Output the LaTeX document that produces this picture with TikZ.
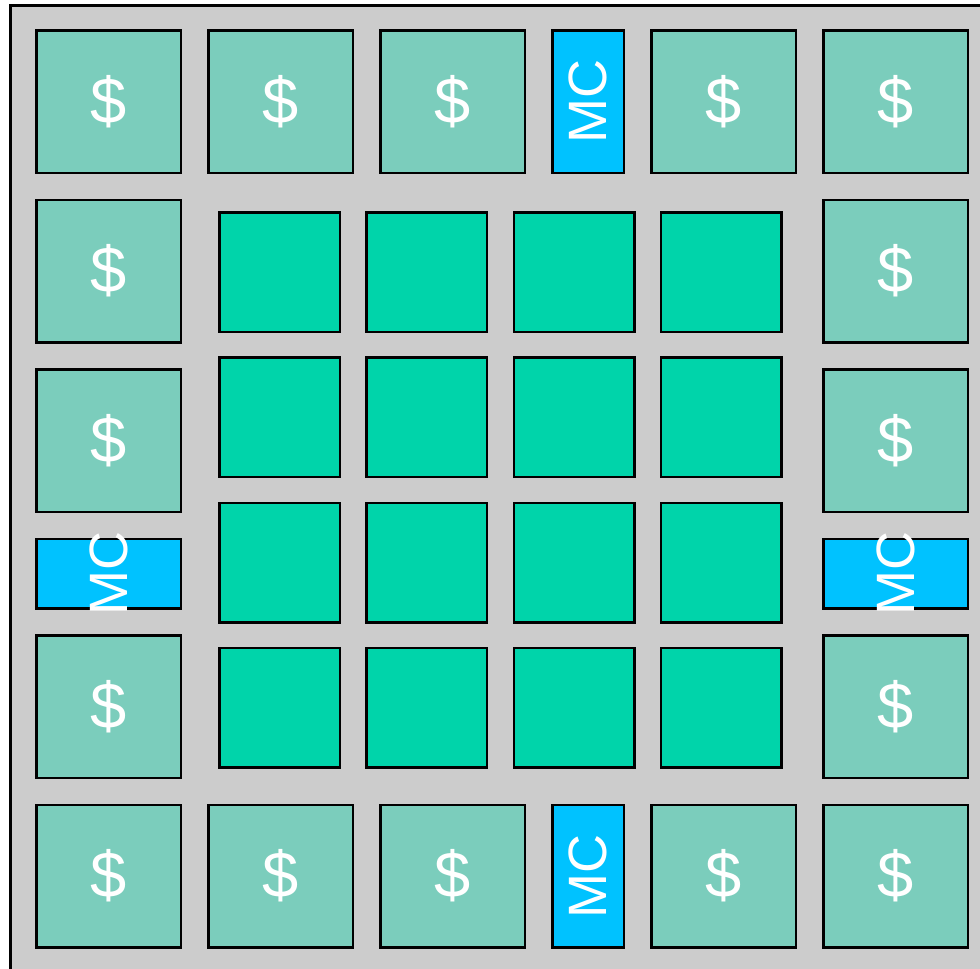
\documentclass[tikz,border=0pt]{standalone}
\usepackage{fontspec}
\setmainfont{Liberation Sans}
\usetikzlibrary{positioning}
\definecolor{boardgray}{RGB}{204,204,204}
\definecolor{cachegreen}{RGB}{123,205,188}
\definecolor{coregreen}{RGB}{0,212,170}
\definecolor{mcblue}{RGB}{0,194,255}

\begin{document}
\begin{tikzpicture}[
    x=1pt, y=-1pt,
    node distance=27pt and 27.5pt,
    cell/.style={rectangle, draw, line width=2.5pt, outer sep=0pt, inner sep=0pt},
    cache/.style={cell, fill=cachegreen, minimum width=144.5pt, minimum height=142.5pt, text=white, font=\fontsize{65}{70}\selectfont},
    core/.style={cell, fill=coregreen, minimum width=120.5pt, minimum height=119.5pt},
    mclabel/.style={text=white, rotate=90, inner sep=0pt, font=\fontsize{54}{60}\selectfont},
    mcv/.style={cell, fill=mcblue, minimum width=71.5pt, minimum height=142.5pt, label={[mclabel]center:MC}},
    mch/.style={cell, fill=mcblue, minimum width=144.5pt, minimum height=69.5pt, label={[mclabel]center:MC}}
]
\useasboundingbox (0,0) rectangle (980,969);
\clip (0,0) rectangle (980,969);
\fill[boardgray] (10.5,5.5) rectangle (995,985);
\draw[line width=3pt] (10.5,985) -- (10.5,5.5) -- (995,5.5);

% top row
\node[cache] (t1) at (108.5,101.5) {\$};
\node[cache, right=of t1] (t2) {\$};
\node[cache, right=of t2] (t3) {\$};
\node[mcv, right=of t3] (tm) {};
\node[cache, right=of tm] (t4) {\$};
\node[cache, right=of t4] (t5) {\$};
% left column
\node[cache, below=of t1] (l1) {\$};
\node[cache, below=of l1] (l2) {\$};
\node[mch, below=of l2] (lm) {};
\node[cache, below=of lm] (l3) {\$};
% right column
\node[cache, below=of t5] (r1) {\$};
\node[cache, below=of r1] (r2) {\$};
\node[mch, below=of r2] (rm) {};
\node[cache, below=of rm] (r3) {\$};
% bottom row
\node[cache, below=of l3] (b1) {\$};
\node[cache, right=of b1] (b2) {\$};
\node[cache, right=of b2] (b3) {\$};
\node[mcv, right=of b3] (bm) {};
\node[cache, right=of bm] (b4) {\$};
\node[cache, right=of b4] (b5) {\$};

% cores
\foreach \i in {0,...,3}
  \foreach \j in {0,...,3}
    \node[core] (core-\i-\j) at ({279.5+147.3*\i},{272+145.3*\j}) {};
\end{tikzpicture}
\end{document}
